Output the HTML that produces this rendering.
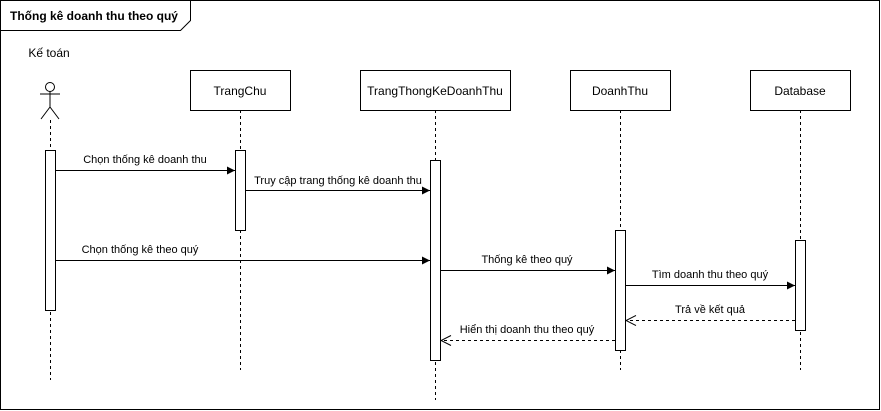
<!DOCTYPE html>
<html><head><meta charset="utf-8"><style>body{margin:0;background:#fff}svg{display:block}text{font-family:"Liberation Sans",Arial,sans-serif;fill:#000}</style></head>
<body>
<svg width="881" height="411" viewBox="0 0 881 411" xmlns="http://www.w3.org/2000/svg">
<defs>
<marker id="a" markerWidth="10" markerHeight="10" refX="9" refY="5" orient="auto" markerUnits="userSpaceOnUse"><path d="M1,1 L9,5 L1,9 Z" fill="#000"/></marker>
<marker id="o" markerWidth="12" markerHeight="12" refX="11" refY="6" orient="auto" markerUnits="userSpaceOnUse"><path d="M1,1 L11,6 L1,11" fill="none" stroke="#000"/></marker>
</defs>
<rect x="0.5" y="0.5" width="879" height="409" fill="none" stroke="#000"/>
<path d="M0.5,0.5 H190.5 V20.5 L180.5,30.5 H0.5 Z" fill="#fff" stroke="#000"/>
<text x="10" y="20" font-size="12" font-weight="bold">Thống kê doanh thu theo quý</text>

<text x="49" y="57" font-size="12" text-anchor="middle">Kế toán</text>
<g stroke="#000" fill="none">
<circle cx="50" cy="87" r="4.5" fill="#fff"/>
<path d="M50,91.5 V107 M40,94 H60 M50,107 L41,119 M50,107 L59,119"/>
</g>

<g stroke="#000" stroke-dasharray="3,3">
<path d="M50.5,120 V380 M240.5,110 V370 M435.5,110 V400 M620.5,110 V370 M800.5,110 V370"/>
</g>

<g fill="#fff" stroke="#000">
<rect x="190.5" y="70.5" width="100" height="40"/>
<rect x="360.5" y="70.5" width="150" height="40"/>
<rect x="570.5" y="70.5" width="100" height="40"/>
<rect x="750.5" y="70.5" width="100" height="40"/>
<rect x="45.5" y="150.5" width="10" height="160"/>
<rect x="235.5" y="150.5" width="10" height="80"/>
<rect x="430.5" y="160.5" width="10" height="200"/>
<rect x="615.5" y="230.5" width="10" height="120"/>
<rect x="795.5" y="240.5" width="10" height="90"/>
</g>
<g font-size="12" text-anchor="middle">
<text x="240" y="95">TrangChu</text>
<text x="435" y="95">TrangThongKeDoanhThu</text>
<text x="620" y="95">DoanhThu</text>
<text x="800" y="95">Database</text>
</g>

<g stroke="#000" fill="none">
<path d="M55.5,170.5 H235" marker-end="url(#a)"/>
<path d="M245.5,190.5 H430" marker-end="url(#a)"/>
<path d="M55.5,260.5 H430" marker-end="url(#a)"/>
<path d="M440.5,270.5 H615" marker-end="url(#a)"/>
<path d="M625.5,285.5 H795" marker-end="url(#a)"/>
<path d="M795,320.5 H626" stroke-dasharray="3,3" marker-end="url(#o)"/>
<path d="M615,340.5 H441" stroke-dasharray="3,3" marker-end="url(#o)"/>
</g>
<g font-size="11" text-anchor="middle">
<text x="145" y="163">Chọn thống kê doanh thu</text>
<text x="338" y="184">Truy cập trang thống kê doanh thu</text>
<text x="140" y="253">Chọn thống kê theo quý</text>
<text x="527" y="263">Thống kê theo quý</text>
<text x="710" y="278">Tìm doanh thu theo quý</text>
<text x="710" y="313">Trả về kết quả</text>
<text x="527" y="333">Hiển thị doanh thu theo quý</text>
</g>
</svg>
</body></html>
